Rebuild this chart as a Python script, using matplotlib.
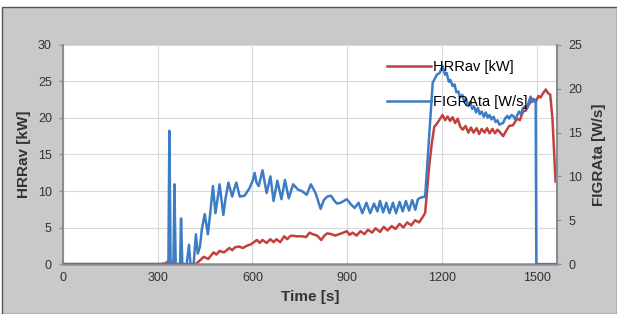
import matplotlib.pyplot as plt
import matplotlib.lines as mlines

plt.rcParams['font.family'] = ['Liberation Sans', 'DejaVu Sans']

# HRRav [kW]
hrr_t = [0, 300, 310, 325, 338, 350, 360, 420, 434, 446, 460, 477, 486, 496, 510, 527, 536, 545, 558,
         570, 582, 595, 605, 614, 623, 632, 645, 657, 667, 676, 688, 701, 710, 719, 725, 740, 756, 770,
         781, 790, 805, 818, 828, 837, 850, 862, 875, 888, 899, 908, 917, 930, 942, 955, 966, 979, 990,
         1004, 1016, 1028, 1041, 1053, 1066, 1078, 1090, 1103, 1115, 1128, 1140, 1147, 1153, 1160, 1168,
         1176, 1184, 1193, 1202, 1210, 1218, 1226, 1234, 1242, 1250, 1258, 1266, 1275, 1284, 1292, 1300,
         1310, 1318, 1326, 1335, 1343, 1351, 1360, 1368, 1376, 1385, 1394, 1403, 1413, 1425, 1438, 1447,
         1457, 1466, 1475, 1488, 1497, 1506, 1513, 1519, 1529, 1536, 1543, 1550, 1560]
hrr_v = [0, 0, 0, 0.1, 0.6, 0.1, 0, 0, 0.5, 1.0, 0.7, 1.6, 1.3, 1.8, 1.6, 2.2, 1.9, 2.3, 2.4,
         2.2, 2.5, 2.7, 3.0, 3.3, 2.9, 3.3, 2.9, 3.4, 3.0, 3.4, 3.0, 3.8, 3.4, 3.8, 3.9, 3.8, 3.8, 3.7,
         4.3, 4.1, 3.9, 3.3, 3.9, 4.2, 4.1, 3.9, 4.1, 4.3, 4.5, 4.0, 4.3, 3.9, 4.5, 4.1, 4.7, 4.3, 4.9,
         4.4, 5.1, 4.6, 5.2, 4.8, 5.5, 5.0, 5.7, 5.3, 6.0, 5.7, 6.5, 7.0, 10.0, 13.5, 16.5,
         18.8, 19.2, 19.8, 20.4, 19.7, 20.2, 19.6, 20.1, 19.3, 19.9, 18.8, 18.4, 18.9, 18.0, 18.7, 18.0,
         18.6, 17.8, 18.5, 18.0, 18.6, 17.9, 18.5, 17.9, 18.4, 18.0, 17.5, 18.2, 18.9, 19.0, 19.9, 19.7,
         20.9, 21.0, 21.8, 22.6, 22.2, 23.0, 22.8, 23.3, 23.9, 23.4, 23.2, 20.0, 11.3]

# FIGRAta [W/s]
fig_t = [0, 334, 337, 341, 345, 350, 353, 357, 365, 371, 374, 378, 392, 399, 404, 414, 421, 427, 434,
         440, 449, 459, 467, 475, 483, 490, 496, 508, 515, 524, 536, 542, 549, 560, 575, 590, 601, 607,
         613, 620, 632, 645, 657, 667, 679, 692, 703, 715, 729, 744, 758, 772, 785, 800, 810, 816, 826,
         837, 849, 860, 868, 880, 899, 912, 924, 936, 948, 961, 973, 985, 996, 1004, 1014, 1024, 1034,
         1045, 1055, 1066, 1076, 1086, 1096, 1106, 1116, 1124, 1134, 1147, 1159, 1171, 1184, 1193, 1202,
         1210, 1215, 1222, 1227, 1234, 1240, 1246, 1252, 1258, 1265, 1271, 1277, 1283, 1290, 1296, 1302,
         1308, 1314, 1320, 1326, 1333, 1339, 1345, 1351, 1357, 1364, 1370, 1376, 1382, 1388, 1394, 1400,
         1407, 1413, 1420, 1426, 1432, 1438, 1444, 1450, 1457, 1463, 1470, 1476, 1481, 1487, 1493, 1497,
         1499, 1560]
fig_v = [0, 0, 15.2, 0, 0, 0, 9.1, 0, 0, 0, 5.2, 0, 0, 2.2, 0, 0, 3.4, 1.2, 2.0,
         4.0, 5.7, 3.4, 6.0, 8.9, 5.8, 7.5, 9.1, 5.6, 7.5, 9.3, 7.7, 8.5, 9.3, 7.7, 7.8, 8.6, 9.5, 10.4,
         9.3, 8.9, 10.7, 8.1, 10.0, 7.2, 9.5, 7.4, 9.6, 7.5, 9.1, 8.5, 8.3, 7.9, 9.1, 8.1, 7.0, 6.3, 7.3,
         7.7, 7.8, 7.2, 6.9, 7.0, 7.4, 6.8, 6.4, 7.0, 5.8, 7.0, 5.8, 6.9, 6.0, 7.2, 5.9, 7.0, 5.8,
         7.0, 5.8, 7.1, 6.0, 7.2, 6.1, 7.3, 6.2, 7.4, 7.6, 7.7, 14.2, 20.7, 21.6, 21.8, 22.6,
         21.6, 21.8, 20.8, 21.0, 20.3, 20.5, 19.6, 19.7, 19.0, 19.3, 18.5, 18.8, 18.0, 18.5, 17.7, 18.0,
         17.3, 17.8, 17.1, 17.4, 16.8, 17.3, 16.7, 17.0, 16.5, 16.8, 16.2, 16.4, 15.9, 16.0, 16.1, 16.6,
         16.9, 16.6, 17.0, 16.9, 16.5, 16.9, 17.4, 17.1, 17.8, 18.0, 17.8, 18.6, 19.1, 18.5, 18.8, 18.5,
         0, 0]

red = '#c2403d'
blue = '#3d7dc6'
bg = '#c8c9cb'
txt = '#333333'

fig = plt.figure(figsize=(6.17, 3.14), dpi=100, facecolor='white')
# gray panel with dark border, white strip on top
fig.patches.append(plt.Rectangle((0.004, 0), 0.996, 0.978, transform=fig.transFigure,
                                 facecolor=bg, edgecolor='#555555', linewidth=1.0, zorder=-10))

ax = fig.add_axes([0.102, 0.159, 0.801, 0.698])
ax.set_facecolor('white')
ax2 = ax.twinx()

ax.plot(hrr_t, hrr_v, color=red, linewidth=1.8)
ax2.plot(fig_t, fig_v, color=blue, linewidth=1.8)

ax.set_xlim(0, 1565)
ax.set_ylim(0, 30)
ax2.set_ylim(0, 25)
ax.set_xticks(range(0, 1501, 300))
ax.set_yticks(range(0, 31, 5))
ax2.set_yticks(range(0, 26, 5))

ax.grid(True, color='#d9d9d9', linewidth=0.8)
ax.set_axisbelow(True)

for a in (ax, ax2):
    for s in a.spines.values():
        s.set_visible(False)
ax.spines['left'].set_visible(True)
ax.spines['left'].set_color('#8c8c8c')
ax.spines['left'].set_linewidth(1.5)
ax.spines['bottom'].set_visible(True)
ax.spines['bottom'].set_color('#8c8c8c')
ax.spines['bottom'].set_linewidth(1.8)
ax2.spines['right'].set_visible(True)
ax2.spines['right'].set_color('#8c8c8c')
ax2.spines['right'].set_linewidth(1.5)

ax.tick_params(axis='y', colors='#8c8c8c', labelcolor=txt, labelsize=9, length=3, pad=5)
ax.tick_params(axis='x', length=0, labelcolor=txt, labelsize=9, pad=6)
ax2.tick_params(axis='y', colors='#8c8c8c', labelcolor=txt, labelsize=9, length=3, pad=5)

ax.set_xlabel('Time [s]', fontsize=11, fontweight='bold', color=txt, labelpad=4)
ax.set_ylabel('HRRav [kW]', fontsize=11, fontweight='bold', color=txt, labelpad=5)
ax2.set_ylabel('FIGRAta [W/s]', fontsize=11, fontweight='bold', color=txt, labelpad=7)

handles = [mlines.Line2D([], [], color=red, linewidth=1.8),
           mlines.Line2D([], [], color=blue, linewidth=1.8)]
ax2.legend(handles, ['HRRav [kW]', 'FIGRAta [W/s]'], loc='upper left',
           bbox_to_anchor=(0.63, 0.99), frameon=False, fontsize=10.5, handlelength=3.0,
           handletextpad=0.1, labelspacing=1.4)

fig.savefig('out.png', dpi=100, facecolor=fig.get_facecolor())
